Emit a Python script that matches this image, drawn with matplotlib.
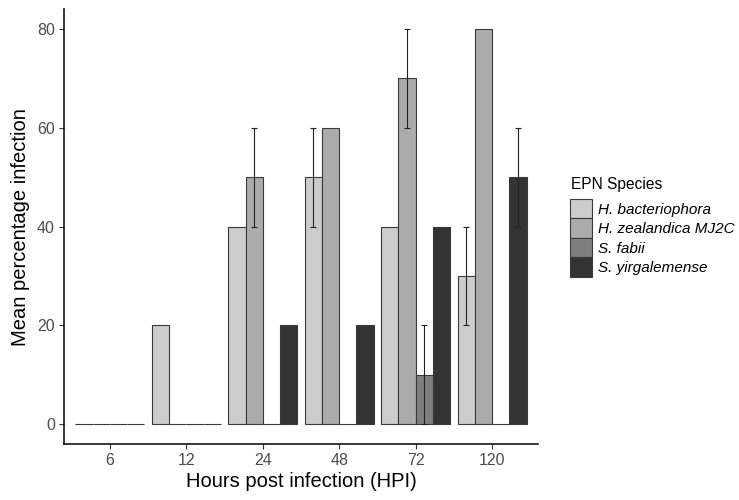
import numpy as np
import matplotlib.pyplot as plt
from matplotlib.patches import Patch

plt.rcParams['font.family'] = ['Liberation Sans', 'DejaVu Sans']

hours = ['6', '12', '24', '48', '72', '120']
species = ['H. bacteriophora', 'H. zealandica MJ2C', 'S. fabii', 'S. yirgalemense']
colors = ['#CCCCCC', '#ABABAB', '#7F7F7F', '#333333']

# mean percentage infection per species, one value per HPI
h_bact = [0, 20, 40, 50, 40, 30]
h_zeal = [0, 0, 50, 60, 70, 80]
s_fabii = [0, 0, 0, 0, 10, 0]
s_yirg = [0, 0, 20, 20, 40, 50]

# error (+/-) for each bar
err_bact = [0, 0, 0, 10, 0, 10]
err_zeal = [0, 0, 10, 0, 10, 0]
err_fabii = [0, 0, 0, 0, 10, 0]
err_yirg = [0, 0, 0, 0, 0, 10]

means = [h_bact, h_zeal, s_fabii, s_yirg]
errs = [err_bact, err_zeal, err_fabii, err_yirg]

fig = plt.figure(figsize=(7.39, 5.0), dpi=100)
ax = fig.add_axes([64 / 739, 56 / 500, (538 - 64) / 739, (490.7 - 56) / 500])

x = np.arange(len(hours))
w = 0.9 / 4
for i, (m, e) in enumerate(zip(means, errs)):
    pos = x - 0.45 + w * (i + 0.5)
    ax.bar(pos, m, width=w, color=colors[i], edgecolor='#3a3a3a',
           linewidth=0.8, zorder=2)
    m = np.array(m)
    e = np.array(e)
    has = e > 0
    ax.errorbar(pos[has], m[has], yerr=e[has], fmt='none', ecolor='#222222',
                elinewidth=0.8, capsize=2.5, capthick=0.8, zorder=3)

ax.set_xlim(-0.6, 5.6)
ax.set_ylim(-4, 84)
ax.set_xticks(x)
ax.set_xticklabels(hours)
ax.set_yticks([0, 20, 40, 60, 80])

for s in ['top', 'right']:
    ax.spines[s].set_visible(False)
for s in ['left', 'bottom']:
    ax.spines[s].set_linewidth(1.1)
    ax.spines[s].set_color('black')

ax.tick_params(axis='both', colors='#333333', labelcolor='#4D4D4D',
               labelsize=11.5, length=3.5, width=0.8, pad=3)
ax.set_xlabel('Hours post infection (HPI)', fontsize=14.5, labelpad=3)
ax.set_ylabel('Mean percentage infection', fontsize=14.5, labelpad=5)

# legend title drawn separately so the gap to the keys matches
fig.text(571 / 739, 1 - 185 / 500, 'EPN Species', fontsize=11.2,
         ha='left', va='center')
handles = [Patch(facecolor=c, edgecolor='#3a3a3a', linewidth=0.8) for c in colors]
leg = fig.legend(handles, species, loc='upper left',
                 bbox_to_anchor=(570 / 739, 1 - 199 / 500),
                 frameon=False,
                 prop={'style': 'italic', 'size': 11},
                 handlelength=1.45, handleheight=1.585,
                 handletextpad=0.35, labelspacing=0.0,
                 borderpad=0, borderaxespad=0)

fig.savefig('out.png', dpi=100)
